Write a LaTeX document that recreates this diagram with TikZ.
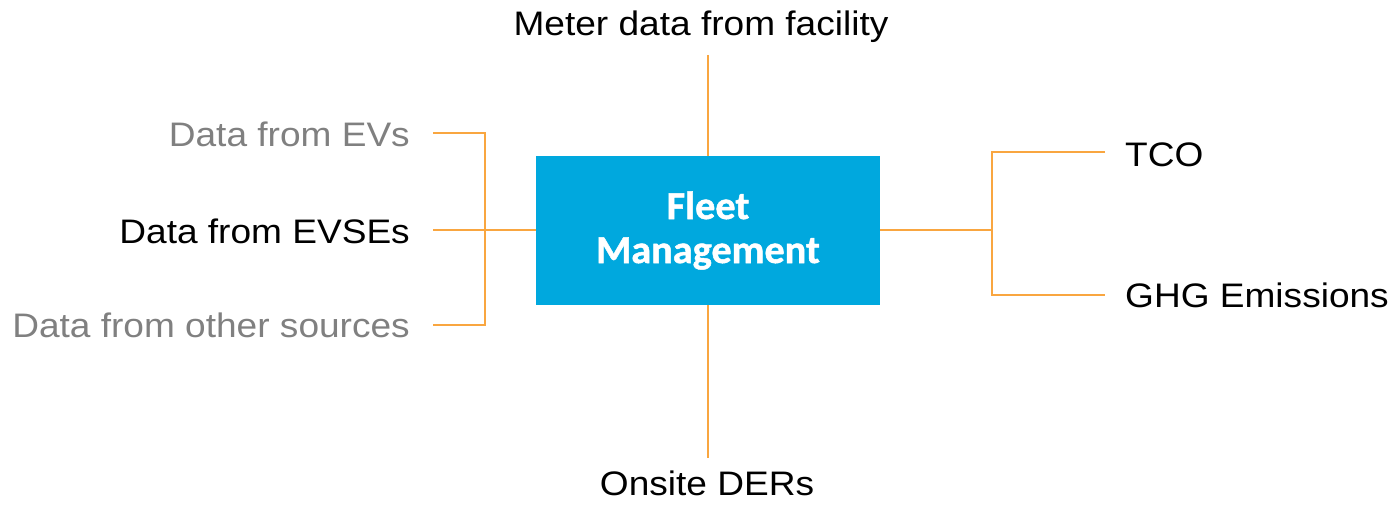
\documentclass[tikz,border=0pt]{standalone}
\usepackage{fontspec}
\setmainfont[FakeStretch=1.09]{Liberation Sans}
\newfontfamily\boxfont[FakeStretch=1.02,FakeBold=1.2]{Carlito}
\definecolor{fmblue}{HTML}{00A8DE}
\definecolor{lineorange}{HTML}{F9A640}
\definecolor{softgray}{HTML}{808080}
\begin{document}
\begin{tikzpicture}[x=1pt,y=-1pt,
  lbl/.style={inner sep=0pt,font=\fontsize{34}{40}\selectfont},
  conn/.style={draw=lineorange,line width=2pt},
  fm/.style={fill=fmblue,minimum width=344pt,minimum height=149pt,inner sep=0pt,
    text=white,align=center,font=\boxfont\bfseries\fontsize{39.5}{44}\selectfont}]
\useasboundingbox (0,0) rectangle (1394,511);
\node[fm] (fm) at (708,230.5) {Fleet\\Management};
% labels
\node[lbl,anchor=base] (meter) at (701,36) {Meter data from facility};
\node[lbl,anchor=base] (der) at (707,495) {Onsite DERs};
\node[lbl,anchor=base east,text=softgray] (evs) at (410,146) {Data from EVs};
\node[lbl,anchor=base east] (evse) at (410,243) {Data from EVSEs};
\node[lbl,anchor=base east,text=softgray] (other) at (410,337) {Data from other sources};
\node[lbl,anchor=base west] (tco) at (1125,166) {TCO};
\node[lbl,anchor=base west] (ghg) at (1125,307) {GHG Emissions};
% junction coordinates
\coordinate (meterend) at (708,55);
\coordinate (derend) at (708,458);
\coordinate (lj) at (485,230);
\coordinate (rj) at (992,230);
\coordinate (evsend) at (433,133);
\coordinate (evseend) at (433,230);
\coordinate (otherend) at (433,325);
\coordinate (tcoend) at (1105,152);
\coordinate (ghgend) at (1105,295);
% connectors
\draw[conn] (meterend) -- (fm.north);
\draw[conn] (fm.south) -- (derend);
\draw[conn,line width=2.6pt] (fm.west |- lj) -- (lj);
\draw[conn] (evsend) -| (lj) |- (otherend);
\draw[conn] (evseend) -- (lj);
\draw[conn] (fm.east |- rj) -- (rj);
\draw[conn] (tcoend) -| (rj) |- (ghgend);
\end{tikzpicture}
\end{document}
